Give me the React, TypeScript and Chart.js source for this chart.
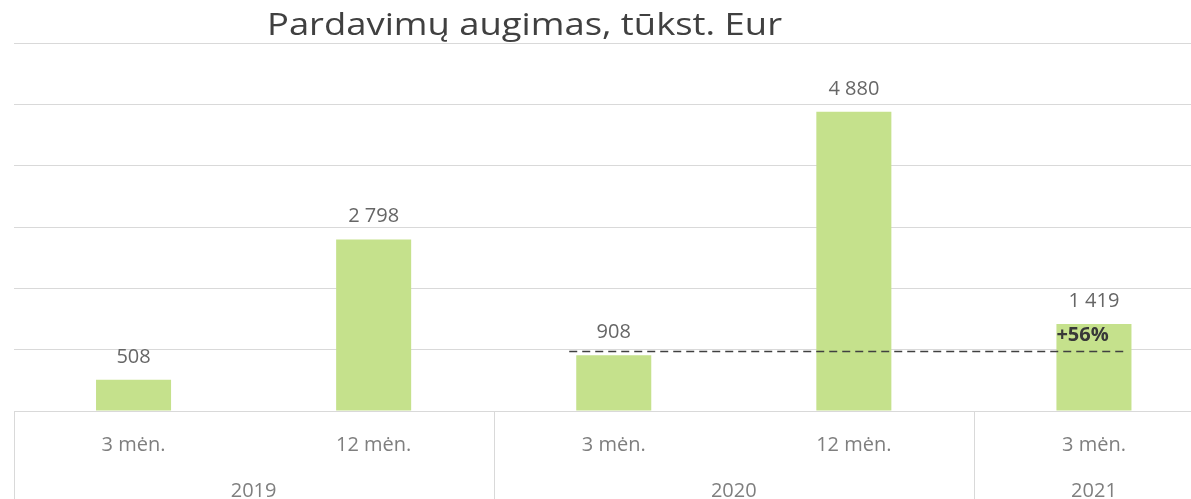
import React, { useEffect, useRef } from "react";
import { Chart, registerables } from "chart.js";
Chart.register(...registerables);

const title = "Pardavimų augimas, tūkst. Eur";
const periods = ["3 mėn.", "12 mėn.", "3 mėn.", "12 mėn.", "3 mėn."];
const years = ["2019", "2019", "2020", "2020", "2021"];
const sales = [508, 2798, 908, 4880, 1419];
const growthLabel = "+56%";
const growthLevel = 970;
const yMax = 6000;
const yStep = 1000;

const FONT = "'Open Sans', 'Noto Sans', sans-serif";
const fmt = (v: number) => String(v).replace(/\B(?=(\d{3})+(?!\d))/g, " ");

const overlay = {
  id: "overlay",
  afterDatasetsDraw(chart: any) {
    const { ctx, chartArea, scales } = chart;
    const xs = scales.x;
    const ys = scales.y;
    const meta = chart.getDatasetMeta(0);
    ctx.save();
    // title (fitted to the reference's text width)
    ctx.fillStyle = "#404040";
    ctx.font = `31px ${FONT}`;
    ctx.textAlign = "left";
    ctx.textBaseline = "alphabetic";
    const tw = ctx.measureText(title).width;
    const targetW = 515;
    const tx = 267;
    ctx.save();
    ctx.translate(tx, 35);
    ctx.scale(targetW / tw, 1);
    ctx.fillText(title, 0, 0);
    ctx.restore();

    // value labels
    ctx.font = `20px ${FONT}`;
    ctx.fillStyle = "#666666";
    ctx.textAlign = "center";
    meta.data.forEach((bar: any, i: number) => {
      ctx.fillText(fmt(sales[i]), bar.x, bar.y - 17);
    });

    // dashed comparison line
    const b0 = meta.data[2];
    const b1 = meta.data[4];
    const yl = ys.getPixelForValue(growthLevel);
    ctx.strokeStyle = "#404040";
    ctx.lineWidth = 1.5;
    ctx.setLineDash([8, 5]);
    ctx.beginPath();
    ctx.moveTo(b0.x - b0.width / 2 - 7, yl);
    ctx.lineTo(b1.x + b1.width / 2 - 7, yl);
    ctx.stroke();
    ctx.setLineDash([]);

    // growth label
    ctx.font = `bold 20px ${FONT}`;
    ctx.fillStyle = "#383838";
    ctx.textAlign = "left";
    ctx.fillText(growthLabel, b1.x - b1.width / 2, b1.y + 17);

    // x axis labels
    const bottom = chartArea.bottom;
    const H = chart.height;
    ctx.font = `20px ${FONT}`;
    ctx.fillStyle = "#7f7f7f";
    ctx.textAlign = "center";
    periods.forEach((p, i) => {
      ctx.fillText(p, xs.getPixelForValue(i), bottom + 40);
    });
    // year groups
    const half = (xs.getPixelForValue(1) - xs.getPixelForValue(0)) / 2;
    let start = 0;
    const seps: number[] = [xs.getPixelForValue(0) - half];
    for (let i = 1; i <= years.length; i++) {
      if (i === years.length || years[i] !== years[start]) {
        const l = xs.getPixelForValue(start) - half;
        const r = xs.getPixelForValue(i - 1) + half;
        ctx.fillText(years[start], (l + r) / 2, bottom + 86);
        seps.push(r);
        start = i;
      }
    }
    ctx.strokeStyle = "#d9d9d9";
    ctx.lineWidth = 1;
    seps.forEach((sx) => {
      const px = Math.round(sx) + 0.5;
      ctx.beginPath();
      ctx.moveTo(px, bottom);
      ctx.lineTo(px, H);
      ctx.stroke();
    });
    ctx.restore();
  },
};

export default function App() {
  const ref = useRef<HTMLCanvasElement>(null);
  useEffect(() => {
    if (!ref.current) return;
    const chart = new Chart(ref.current, {
      type: "bar",
      data: {
        labels: periods,
        datasets: [
          {
            data: sales,
            backgroundColor: "#c5e18c",
            barPercentage: 0.625,
            categoryPercentage: 0.5,
          },
        ],
      },
      options: {
        responsive: false,
        animation: false,
        layout: { padding: { top: 43, left: 13.5, right: 0, bottom: 0 } },
        plugins: { legend: { display: false }, tooltip: { enabled: false }, title: { display: false } },
        scales: {
          x: {
            ticks: { display: false },
            grid: { display: false },
            border: { display: false },
            afterFit: (s: any) => {
              s.height = 88;
            },
          },
          y: {
            min: 0,
            max: yMax,
            ticks: { display: false, stepSize: yStep },
            grid: { color: "#d9d9d9", lineWidth: 1, drawTicks: false },
            border: { display: false },
            afterFit: (s: any) => {
              s.width = 0;
            },
          },
        },
      },
      plugins: [overlay],
    });
    return () => chart.destroy();
  }, []);
  return (
    <div
      style={{
        position: "fixed",
        left: 0,
        top: 0,
        width: 1191,
        height: 499,
        overflow: "hidden",
        background: "#fff",
      }}
    >
      <canvas ref={ref} width={1214} height={499} style={{ display: "block" }} />
    </div>
  );
}
